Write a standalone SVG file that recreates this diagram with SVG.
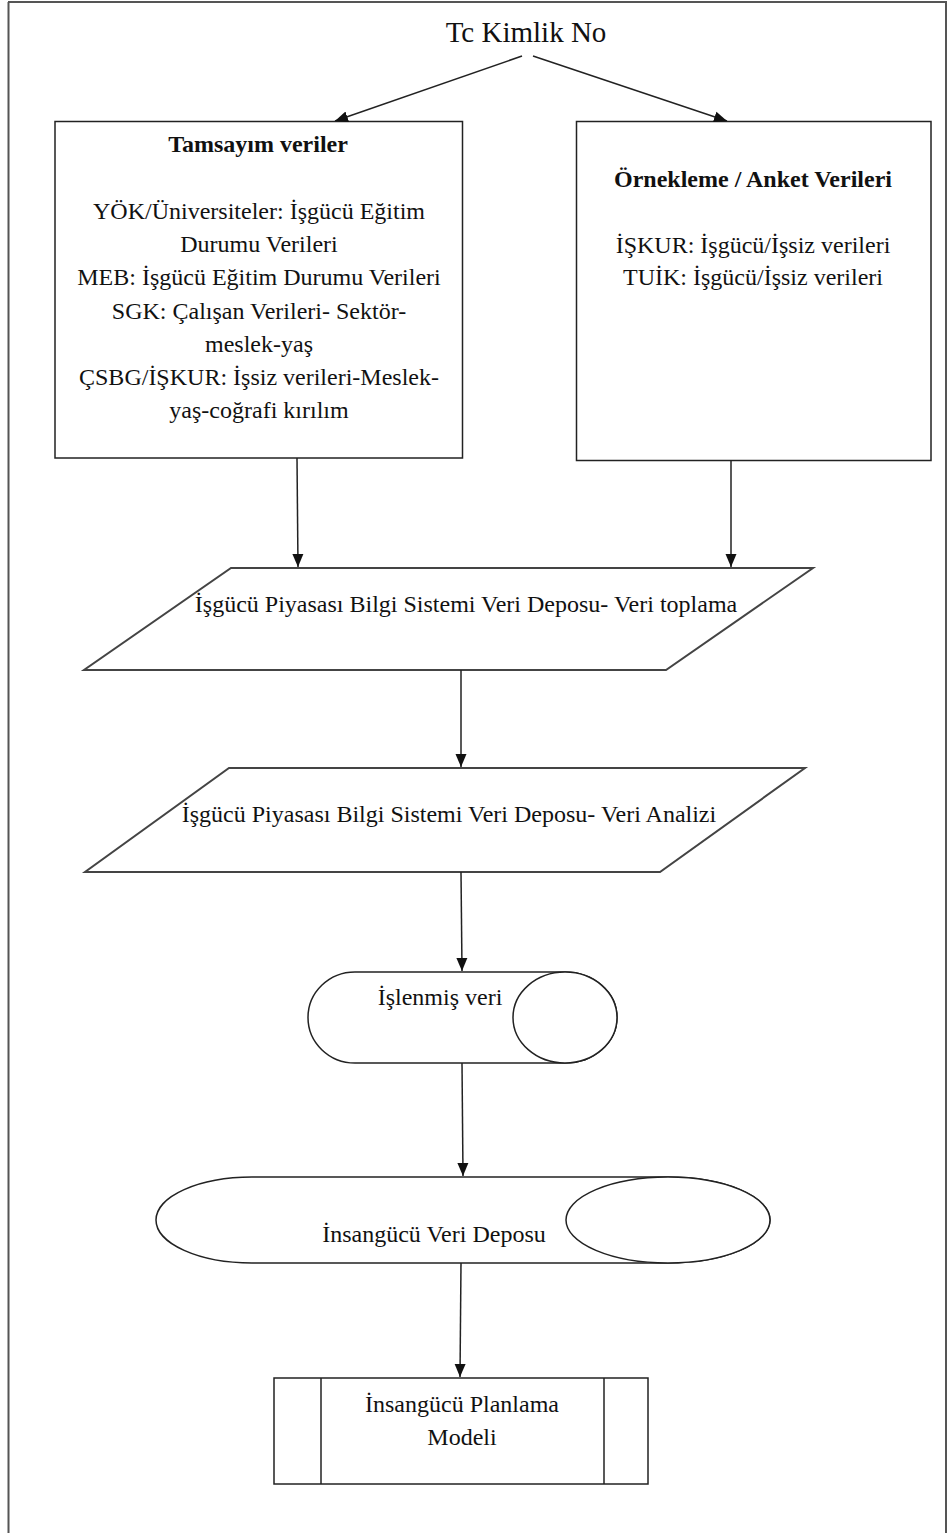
<svg xmlns="http://www.w3.org/2000/svg" width="950" height="1533" viewBox="0 0 950 1533">
<style>
  text { font-family: "Liberation Serif", "Times New Roman", serif; fill: #111; }
  .t { font-size: 24px; text-anchor: middle; }
  .b { font-weight: bold; }
  .title { font-size: 29px; text-anchor: middle; }
  .shape { fill: #fff; stroke: #222; stroke-width: 1.5; }
  .para { fill: #fff; stroke: #444; stroke-width: 2; }
  .conn { fill: none; stroke: #222; stroke-width: 1.5; marker-end: url(#arr); }
  .frame { fill: none; stroke: #555; stroke-width: 2; }
</style>
<defs>
  <marker id="arr" markerUnits="userSpaceOnUse" markerWidth="14" markerHeight="12" refX="13" refY="6" orient="auto">
    <path d="M0,0.5 L13,6 L0,11.5 z" fill="#111"/>
  </marker>
</defs>
<rect width="950" height="1533" fill="#fff"/>
<g id="frame">
  <line class="frame" x1="8.5" y1="2" x2="8.5" y2="1533"/>
  <line class="frame" x1="8" y1="2" x2="947" y2="2"/>
  <line class="frame" x1="946" y1="2" x2="946" y2="1533"/>
</g>
<g id="tc">
  <text class="title" x="526" y="42">Tc Kimlik No</text>
</g>
<g id="tamsayim">
  <rect class="shape" x="55" y="121.5" width="407.5" height="336.5"/>
  <text class="t b" x="258" y="152">Tamsayım veriler</text>
  <text class="t" x="259" y="219">YÖK/Üniversiteler: İşgücü Eğitim</text>
  <text class="t" x="259" y="252">Durumu Verileri</text>
  <text class="t" x="259" y="285">MEB: İşgücü Eğitim Durumu Verileri</text>
  <text class="t" x="259" y="319">SGK: Çalışan Verileri- Sektör-</text>
  <text class="t" x="259" y="352">meslek-yaş</text>
  <text class="t" x="259" y="385">ÇSBG/İŞKUR: İşsiz verileri-Meslek-</text>
  <text class="t" x="259" y="418">yaş-coğrafi kırılım</text>
</g>
<g id="orneklem">
  <rect class="shape" x="576.5" y="121.5" width="354.5" height="339"/>
  <text class="t b" x="753" y="187">Örnekleme / Anket Verileri</text>
  <text class="t" x="753" y="253">İŞKUR: İşgücü/İşsiz verileri</text>
  <text class="t" x="753" y="285">TUİK: İşgücü/İşsiz verileri</text>
</g>
<g id="toplama">
  <polygon class="para" points="231,568 813,568 666,670 84,670"/>
  <text class="t" x="466" y="612">İşgücü Piyasası Bilgi Sistemi Veri Deposu- Veri toplama</text>
</g>
<g id="analiz">
  <polygon class="para" points="229,768 805,768 660,872 85,872"/>
  <text class="t" x="449" y="822">İşgücü Piyasası Bilgi Sistemi Veri Deposu- Veri Analizi</text>
</g>
<g id="islenmis">
  <path class="shape" d="M355,972 L565,972 A52,45.5 0 0 1 565,1063 L355,1063 A47,45.5 0 0 1 355,972 Z"/>
  <ellipse class="shape" cx="565" cy="1017.5" rx="52" ry="45.5"/>
  <text class="t" x="440" y="1005">İşlenmiş veri</text>
</g>
<g id="depo">
  <path class="shape" d="M252,1177 L668,1177 A102,43 0 0 1 668,1263 L252,1263 A96,43 0 0 1 252,1177 Z"/>
  <ellipse class="shape" cx="668" cy="1220" rx="102" ry="43"/>
  <text class="t" x="434" y="1242">İnsangücü Veri Deposu</text>
</g>
<g id="model">
  <rect class="shape" x="274" y="1378" width="374" height="106"/>
  <line class="shape" x1="321" y1="1378" x2="321" y2="1484"/>
  <line class="shape" x1="604" y1="1378" x2="604" y2="1484"/>
  <text class="t" x="462" y="1412">İnsangücü Planlama</text>
  <text class="t" x="462" y="1445">Modeli</text>
</g>
<g id="connectors">
  <path class="conn" d="M522,56 L335,121"/>
  <path class="conn" d="M533,56 L727,121"/>
  <path class="conn" d="M297,458 L298,567"/>
  <path class="conn" d="M731,460.5 L731,567"/>
  <path class="conn" d="M461,670 L461,767"/>
  <path class="conn" d="M461,872 L462,971"/>
  <path class="conn" d="M462,1063 L463,1176"/>
  <path class="conn" d="M461,1263 L460,1377"/>
</g>
</svg>
